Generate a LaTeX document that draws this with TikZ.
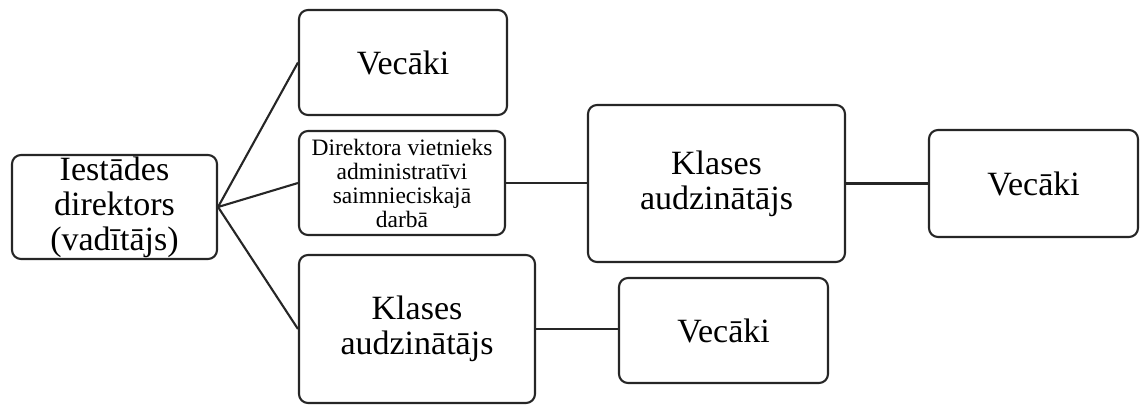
\documentclass[tikz,border=0pt]{standalone}
\usepackage{fontspec}
\setmainfont{Liberation Serif}
\tikzset{
  box/.style={draw=black!85, line width=2.1pt, rounded corners=9pt, inner sep=0pt,
    align=center, font=\fontsize{34}{35}\selectfont},
  smallbox/.style={box, font=\fontsize{23.5}{24}\selectfont},
  conn/.style={draw=black!85, line width=2.1pt}
}
\begin{document}
\begin{tikzpicture}[x=1pt,y=-1pt]
\useasboundingbox (0,0) rectangle (1146,405);
\node[box, minimum width=205pt, minimum height=104pt] (dir) at (114.5,207) {Iestādes\\direktors\\(vadītājs)};
\node[box, minimum width=208pt, minimum height=105pt] (vec1) at (403,62.5) {Vecāki};
\node[smallbox, minimum width=206pt, minimum height=104pt] (dv) at (402,183) {Direktora vietnieks\\administratīvi\\saimnieciskajā\\darbā};
\node[box, minimum width=236pt, minimum height=148pt] (kl1) at (417,329) {Klases\\audzinātājs};
\node[box, minimum width=257pt, minimum height=157pt] (kl2) at (716.5,183.5) {Klases\\audzinātājs};
\node[box, minimum width=209pt, minimum height=107pt] (vec2) at (1033.5,183.5) {Vecāki};
\node[box, minimum width=209pt, minimum height=105pt] (vec3) at (723.5,330.5) {Vecāki};
\draw[conn] (dir.east) -- (vec1.west);
\draw[conn] (dir.east) -- (dv.west);
\draw[conn] (dir.east) -- (kl1.west);
\draw[conn] (dv.east) -- (dv.east -| kl2.west);
\draw[conn] (kl2.east) -- (vec2.west);
\draw[conn] (kl1.east) -- (kl1.east -| vec3.west);
\end{tikzpicture}
\end{document}
